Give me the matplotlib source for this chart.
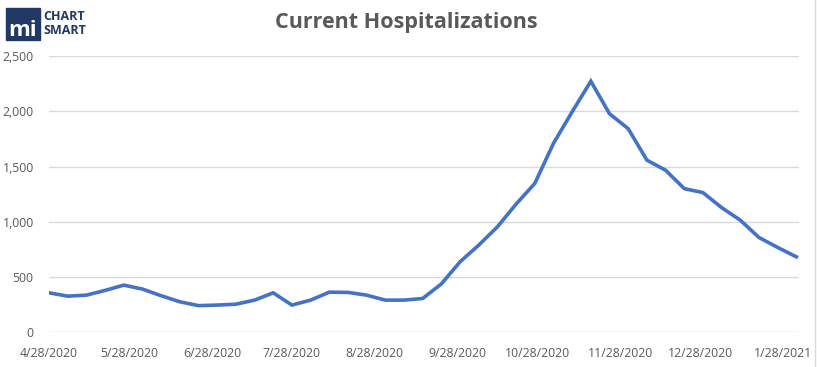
import datetime as dt
import matplotlib
matplotlib.use("Agg")
import matplotlib.pyplot as plt
import matplotlib.dates as mdates
from matplotlib.ticker import FuncFormatter, MultipleLocator
from matplotlib.patches import Rectangle

# weekly values, starting 4/28/2020
start_date = dt.date(2020, 4, 28)
hospitalized = [356, 326, 335, 378, 426, 390, 330, 275, 240, 245,
                253, 290, 356, 245, 290, 362, 360, 335, 290, 290,
                305, 437, 637, 788, 954, 1160, 1347, 1710, 1996, 2273,
                1978, 1843, 1558, 1467, 1300, 1264, 1128, 1014, 857, 767,
                682]
dates = [start_date + dt.timedelta(days=7 * i) for i in range(len(hospitalized))]

title = "Current Hospitalizations"
grey = "#595959"
navy = "#1F3864"

plt.rcParams['font.family'] = ['Open Sans', 'DejaVu Sans']

fig = plt.figure(figsize=(8.17, 3.67), dpi=100)
ax = fig.add_axes([0.060, 0.095, 0.918, 0.752])

ax.plot(dates, hospitalized, color="#4472C4", lw=2.6, solid_joinstyle="miter")

ax.set_ylim(0, 2500)
ax.yaxis.set_major_locator(MultipleLocator(500))
ax.yaxis.set_major_formatter(FuncFormatter(lambda v, p: f"{int(v):,}"))
ax.set_xlim(dates[0], dates[-1] + dt.timedelta(days=1))
ax.xaxis.set_major_locator(mdates.MonthLocator(bymonthday=28))
ax.xaxis.set_major_formatter(FuncFormatter(
    lambda v, p: "{0.month}/{0.day}/{0.year}".format(mdates.num2date(v))))

ax.grid(axis="y", color="#D9D9D9", lw=1)
ax.set_axisbelow(True)
for s in ax.spines.values():
    s.set_visible(False)
ax.tick_params(length=0, labelsize=8.8, colors=grey)
ax.tick_params(axis="y", pad=11)
ax.tick_params(axis="x", pad=11)

fig.text(0.497, 0.94, title, ha="center", va="center", fontsize=15.5,
         fontweight="bold", color=grey)

# logo
fig.patches.append(Rectangle((6 / 817, 1 - 40 / 367), 34 / 817, 32 / 367,
                             transform=fig.transFigure, color=navy))
fig.text(23 / 817, 1 - 31 / 367, "mi", ha="center", va="center", fontsize=16,
         fontweight="bold", color="white")
fig.text(43 / 817, 1 - 17 / 367, "CHART", ha="left", va="center", fontsize=9,
         fontweight="bold", color=navy)
fig.text(43 / 817, 1 - 31 / 367, "SMART", ha="left", va="center", fontsize=9,
         fontweight="bold", color=navy)

# chart border line on the right
fig.add_artist(plt.Line2D([815 / 817, 815 / 817], [0, 1], color="#D9D9D9", lw=1,
                          transform=fig.transFigure))

fig.savefig("out.png", dpi=100)
